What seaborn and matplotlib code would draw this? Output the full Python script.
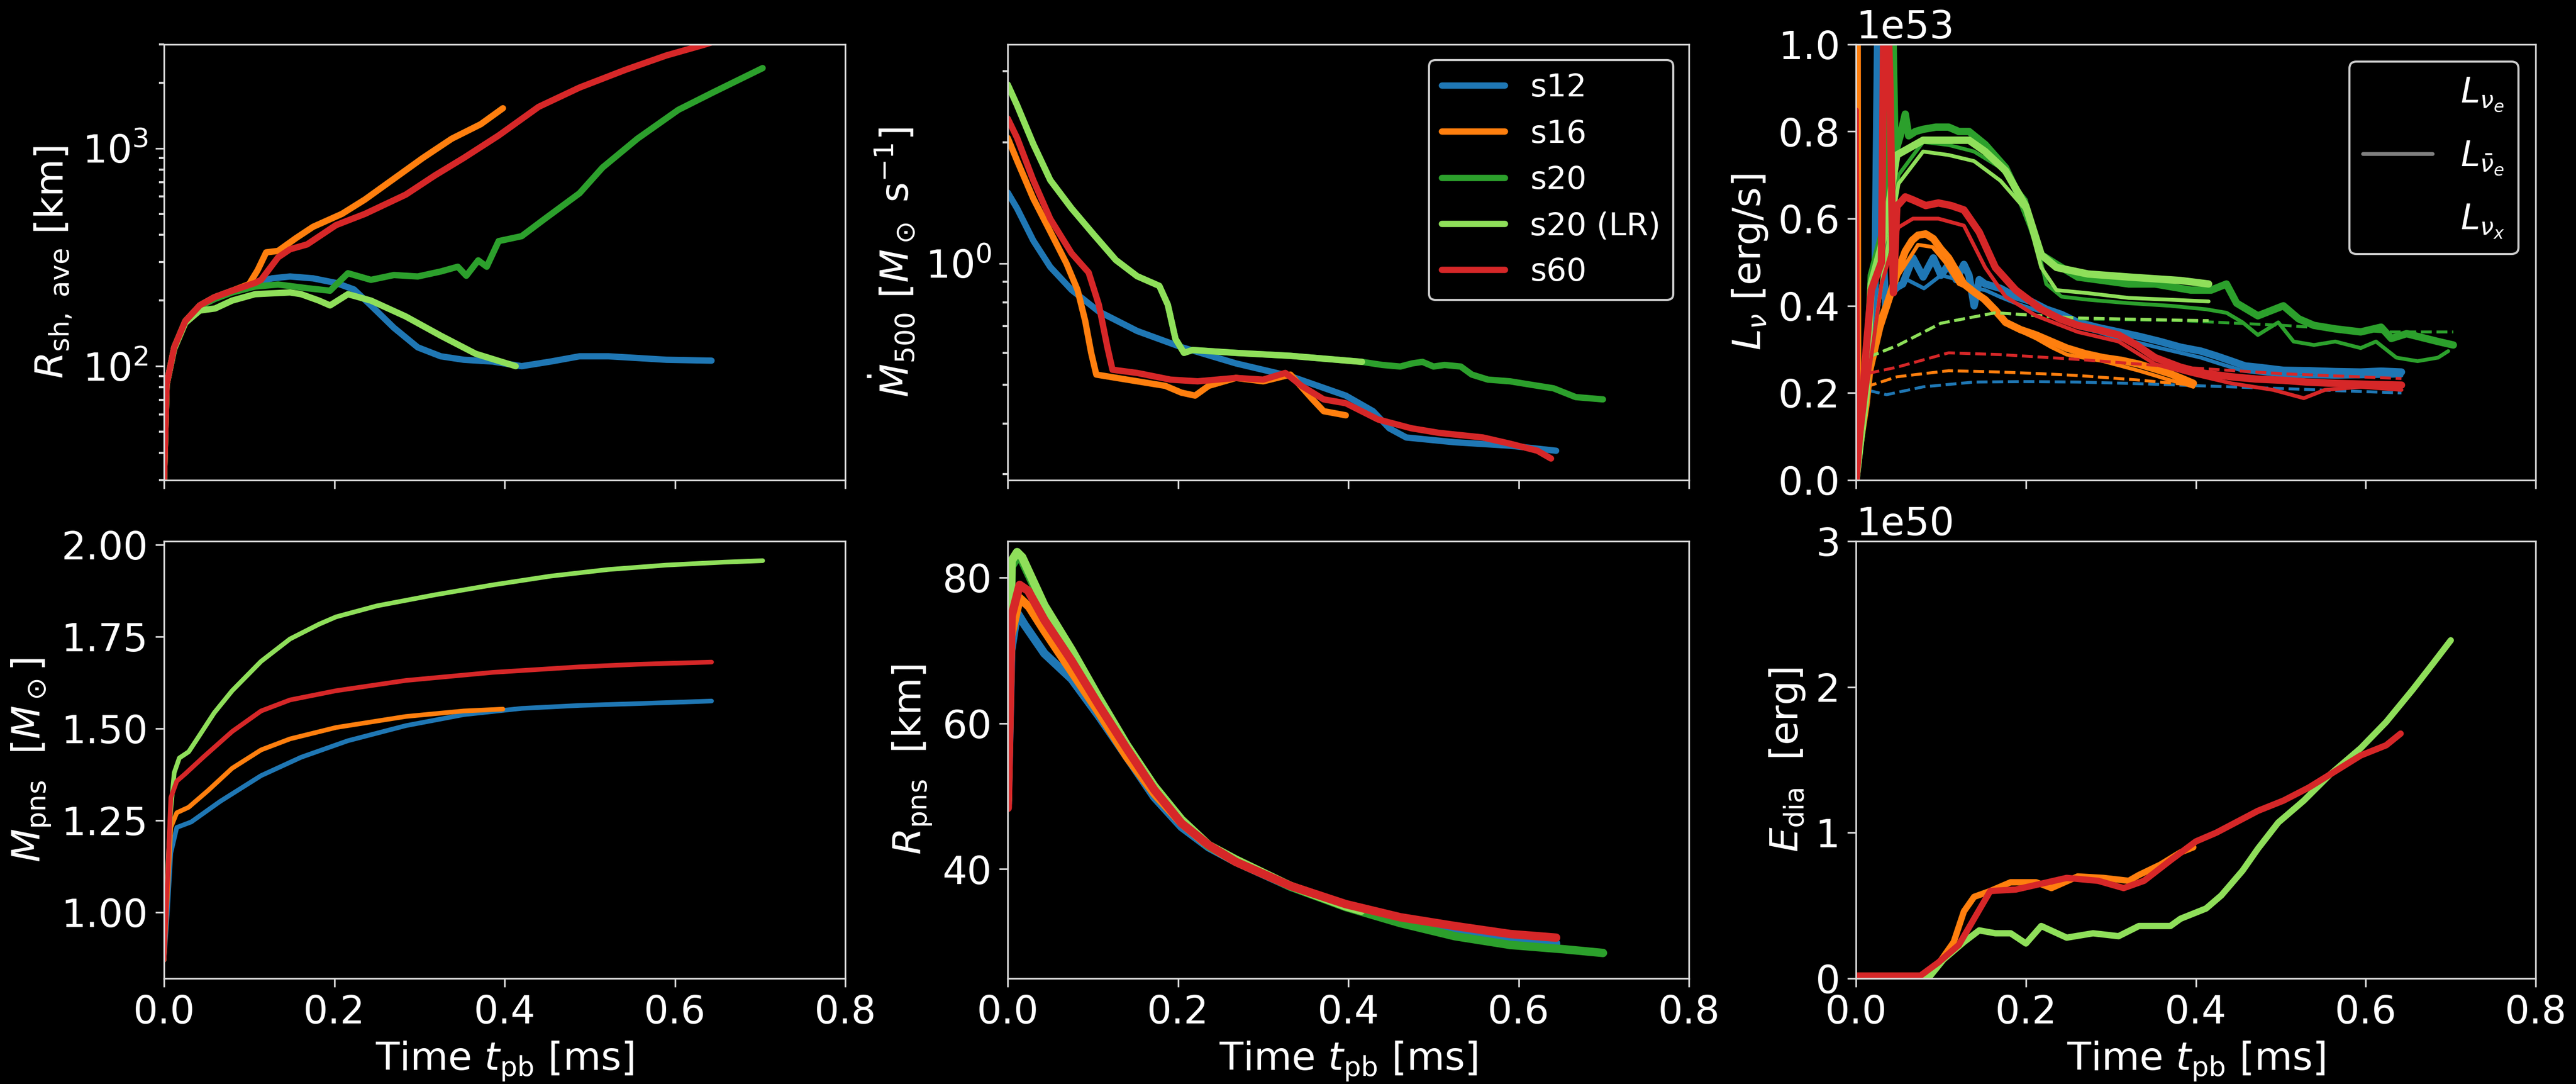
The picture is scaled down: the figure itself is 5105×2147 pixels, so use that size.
import numpy as np
import matplotlib
matplotlib.use('Agg')
import matplotlib.pyplot as plt
import seaborn as sns
from matplotlib.lines import Line2D
from matplotlib.ticker import NullFormatter

# ---------------- models ----------------
models = ['s12', 's16', 's20', 's20 (LR)', 's60']
c_s12, c_s16, c_s20, c_s20lr, c_s60 = '#1f77b4', '#ff7f0e', '#2ca02c', '#8fdf5a', '#d62728'
xticks = [0.0, 0.2, 0.4, 0.6, 0.8]

# ---------------- panel 1: average shock radius [km] ----------------
rsh_t_s12 = [0, 0.003, 0.012, 0.025, 0.042, 0.059, 0.08, 0.107, 0.127, 0.148, 0.175, 0.202, 0.223, 0.243, 0.27, 0.298, 0.325, 0.352, 0.386, 0.42, 0.454, 0.488, 0.522, 0.556, 0.59, 0.643]
rsh_s12 = [30, 82, 122, 161, 190, 207, 222, 241, 253, 258, 253, 241, 225, 190, 150, 122, 111, 107, 105, 100, 105, 111, 111, 109, 107, 106]
rsh_t_s16 = [0, 0.003, 0.012, 0.025, 0.042, 0.059, 0.08, 0.1, 0.11, 0.12, 0.134, 0.155, 0.175, 0.209, 0.236, 0.27, 0.304, 0.338, 0.372, 0.398]
rsh_s16 = [30, 82, 122, 161, 190, 207, 222, 238, 276, 333, 338, 387, 436, 500, 582, 725, 903, 1107, 1290, 1527]
rsh_t_s20 = [0, 0.003, 0.012, 0.025, 0.042, 0.059, 0.08, 0.107, 0.134, 0.168, 0.195, 0.216, 0.243, 0.27, 0.298, 0.325, 0.345, 0.355, 0.369, 0.379, 0.393, 0.42, 0.447, 0.488, 0.515, 0.556, 0.604, 0.645, 0.703]
rsh_s20 = [30, 82, 122, 161, 188, 203, 218, 232, 237, 228, 222, 267, 249, 262, 258, 272, 286, 260, 306, 286, 375, 395, 474, 622, 816, 1107, 1501, 1807, 2334]
rsh_t_s20lr = [0, 0.003, 0.012, 0.025, 0.042, 0.06, 0.08, 0.107, 0.148, 0.161, 0.182, 0.195, 0.216, 0.243, 0.284, 0.325, 0.366, 0.413]
rsh_s20lr = [30, 82, 120, 158, 180, 184, 200, 214, 218, 214, 200, 190, 214, 200, 169, 138, 114, 100]
rsh_t_s60 = [0, 0.003, 0.012, 0.025, 0.042, 0.059, 0.08, 0.107, 0.114, 0.134, 0.148, 0.168, 0.202, 0.236, 0.284, 0.318, 0.352, 0.393, 0.44, 0.488, 0.542, 0.59, 0.634, 0.645]
rsh_s60 = [30, 82, 122, 161, 190, 207, 222, 241, 249, 316, 344, 362, 444, 500, 613, 750, 903, 1145, 1550, 1900, 2293, 2668, 2985, 3080]

# ---------------- panel 2: mass accretion rate at 500 km [Msun/s] ----------------
mdot_t_s12 = [0, 0.011, 0.03, 0.05, 0.075, 0.107, 0.152, 0.204, 0.268, 0.332, 0.397, 0.429, 0.448, 0.468, 0.525, 0.59, 0.644]
mdot_s12 = [1.5, 1.37, 1.14, 0.98, 0.86, 0.76, 0.68, 0.62, 0.565, 0.525, 0.47, 0.43, 0.39, 0.37, 0.36, 0.353, 0.343]
mdot_t_s16 = [0, 0.011, 0.03, 0.05, 0.069, 0.082, 0.091, 0.098, 0.104, 0.14, 0.185, 0.204, 0.22, 0.236, 0.268, 0.3, 0.332, 0.358, 0.371, 0.397]
mdot_s16 = [2.05, 1.8, 1.45, 1.2, 1.0, 0.86, 0.72, 0.60, 0.53, 0.515, 0.497, 0.478, 0.47, 0.497, 0.52, 0.51, 0.53, 0.46, 0.43, 0.42]
mdot_t_s20 = [0, 0.011, 0.03, 0.05, 0.075, 0.101, 0.127, 0.152, 0.178, 0.188, 0.197, 0.207, 0.217, 0.268, 0.332, 0.416, 0.44, 0.461, 0.475, 0.487, 0.5, 0.513, 0.532, 0.545, 0.564, 0.59, 0.615, 0.641, 0.667, 0.699]
mdot_s20 = [2.78, 2.47, 1.98, 1.61, 1.37, 1.18, 1.02, 0.93, 0.88, 0.79, 0.65, 0.60, 0.61, 0.60, 0.59, 0.57, 0.56, 0.555, 0.565, 0.57, 0.555, 0.56, 0.555, 0.53, 0.515, 0.51, 0.50, 0.49, 0.466, 0.46]
mdot_t_s20lr = [0, 0.011, 0.03, 0.05, 0.075, 0.101, 0.127, 0.152, 0.178, 0.188, 0.197, 0.207, 0.217, 0.268, 0.332, 0.416]
mdot_s20lr = [2.78, 2.47, 1.98, 1.61, 1.37, 1.18, 1.02, 0.93, 0.88, 0.79, 0.65, 0.60, 0.61, 0.60, 0.59, 0.57]
mdot_t_s60 = [0, 0.011, 0.03, 0.05, 0.075, 0.095, 0.107, 0.117, 0.123, 0.152, 0.191, 0.223, 0.268, 0.3, 0.326, 0.345, 0.371, 0.397, 0.435, 0.474, 0.506, 0.558, 0.59, 0.622, 0.638]
mdot_s60 = [2.29, 2.05, 1.61, 1.29, 1.06, 0.95, 0.79, 0.62, 0.545, 0.535, 0.515, 0.51, 0.52, 0.515, 0.535, 0.497, 0.46, 0.45, 0.41, 0.39, 0.38, 0.37, 0.357, 0.343, 0.328]

# ---------------- panel 3: neutrino luminosities [1e53 erg/s] ----------------
lnue_t_s12 = [0, 0.008, 0.015, 0.022, 0.027, 0.031, 0.035, 0.042, 0.055, 0.067, 0.079, 0.091, 0.1, 0.109, 0.118, 0.127, 0.133, 0.139, 0.145, 0.152, 0.17, 0.188, 0.206, 0.224, 0.242, 0.261, 0.285, 0.309, 0.333, 0.358, 0.382, 0.406, 0.424, 0.442, 0.458, 0.473, 0.503, 0.533, 0.564, 0.594, 0.618, 0.642]
lnue_s12 = [0, 0.14, 0.29, 0.38, 1.3, 0.55, 0.40, 0.436, 0.45, 0.51, 0.466, 0.51, 0.47, 0.495, 0.46, 0.495, 0.47, 0.40, 0.46, 0.45, 0.44, 0.421, 0.41, 0.392, 0.38, 0.362, 0.35, 0.34, 0.33, 0.318, 0.305, 0.296, 0.285, 0.273, 0.262, 0.259, 0.252, 0.251, 0.249, 0.248, 0.25, 0.248]
lnub_t_s12 = [0, 0.01, 0.02, 0.04, 0.06, 0.08, 0.1, 0.12, 0.14, 0.152, 0.17, 0.188, 0.212, 0.236, 0.261, 0.285, 0.309, 0.333, 0.358, 0.382, 0.406, 0.43, 0.455, 0.48, 0.503, 0.533, 0.564, 0.6, 0.642]
lnub_s12 = [0, 0.15, 0.3, 0.42, 0.46, 0.44, 0.47, 0.46, 0.44, 0.436, 0.42, 0.406, 0.39, 0.377, 0.351, 0.34, 0.325, 0.315, 0.303, 0.292, 0.281, 0.266, 0.251, 0.245, 0.24, 0.238, 0.237, 0.238, 0.24]
lnux_t_s12 = [0, 0.012, 0.036, 0.079, 0.139, 0.2, 0.261, 0.32, 0.382, 0.44, 0.503, 0.57, 0.642]
lnux_s12 = [0, 0.207, 0.196, 0.214, 0.225, 0.226, 0.225, 0.222, 0.218, 0.214, 0.21, 0.205, 0.2]

lnue_t_s16 = [0, 0.001, 0.002, 0.006, 0.012, 0.018, 0.028, 0.036, 0.048, 0.058, 0.066, 0.073, 0.082, 0.091, 0.1, 0.109, 0.118, 0.127, 0.14, 0.152, 0.164, 0.176, 0.194, 0.212, 0.23, 0.248, 0.27, 0.291, 0.312, 0.333, 0.352, 0.37, 0.385, 0.397]
lnue_s16 = [0, 1.6, 0.05, 0.1, 0.177, 0.288, 0.36, 0.40, 0.473, 0.525, 0.55, 0.562, 0.565, 0.554, 0.53, 0.51, 0.48, 0.45, 0.43, 0.414, 0.39, 0.362, 0.345, 0.333, 0.318, 0.303, 0.29, 0.281, 0.275, 0.266, 0.255, 0.244, 0.232, 0.222]
lnub_t_s16 = [0, 0.012, 0.03, 0.05, 0.073, 0.09, 0.105, 0.121, 0.133, 0.145, 0.158, 0.17, 0.19, 0.212, 0.23, 0.248, 0.27, 0.291, 0.312, 0.333, 0.352, 0.37, 0.385, 0.397]
lnub_s16 = [0, 0.2, 0.35, 0.47, 0.54, 0.535, 0.5, 0.45, 0.44, 0.421, 0.395, 0.37, 0.345, 0.325, 0.305, 0.288, 0.28, 0.273, 0.262, 0.251, 0.24, 0.229, 0.222, 0.214]
lnux_t_s16 = [0, 0.012, 0.048, 0.109, 0.17, 0.22, 0.261, 0.33, 0.397]
lnux_s16 = [0, 0.214, 0.237, 0.251, 0.248, 0.244, 0.24, 0.23, 0.218]

lnue_t_s20 = [0, 0.012, 0.018, 0.033, 0.038, 0.041, 0.046, 0.052, 0.058, 0.062, 0.07, 0.079, 0.094, 0.109, 0.121, 0.133, 0.152, 0.176, 0.194, 0.206, 0.218, 0.236, 0.261, 0.291, 0.321, 0.352, 0.394, 0.418, 0.436, 0.448, 0.473, 0.503, 0.521, 0.539, 0.564, 0.594, 0.618, 0.63, 0.648, 0.685, 0.703]
lnue_s20 = [0, 0.21, 0.47, 0.58, 0.9, 1.3, 0.75, 0.79, 0.84, 0.79, 0.8, 0.805, 0.81, 0.81, 0.8, 0.80, 0.77, 0.717, 0.643, 0.584, 0.517, 0.495, 0.466, 0.458, 0.45, 0.45, 0.436, 0.436, 0.45, 0.406, 0.377, 0.40, 0.37, 0.355, 0.347, 0.34, 0.351, 0.325, 0.336, 0.318, 0.31]
lnub_t_s20 = [0, 0.012, 0.03, 0.05, 0.079, 0.109, 0.139, 0.17, 0.2, 0.212, 0.224, 0.242, 0.273, 0.321, 0.37, 0.412, 0.436, 0.455, 0.473, 0.497, 0.515, 0.539, 0.564, 0.594, 0.612, 0.636, 0.661, 0.685, 0.697]
lnub_s20 = [0, 0.2, 0.45, 0.7, 0.776, 0.769, 0.754, 0.717, 0.643, 0.547, 0.45, 0.421, 0.414, 0.406, 0.40, 0.392, 0.384, 0.362, 0.333, 0.362, 0.318, 0.31, 0.318, 0.303, 0.318, 0.281, 0.273, 0.281, 0.296]
lnux_t_s20 = [0, 0.012, 0.05, 0.1, 0.164, 0.261, 0.382, 0.503, 0.624, 0.703]
lnux_s20 = [0, 0.28, 0.31, 0.36, 0.384, 0.37, 0.366, 0.355, 0.34, 0.34]

lnue_t_s20lr = [0, 0.012, 0.018, 0.033, 0.048, 0.079, 0.109, 0.133, 0.152, 0.176, 0.2, 0.218, 0.236, 0.273, 0.321, 0.382, 0.415]
lnue_s20lr = [0, 0.2, 0.45, 0.56, 0.746, 0.78, 0.78, 0.78, 0.754, 0.71, 0.628, 0.517, 0.488, 0.473, 0.466, 0.458, 0.45]
lnub_t_s20lr = [0, 0.012, 0.03, 0.05, 0.079, 0.109, 0.139, 0.17, 0.2, 0.218, 0.236, 0.273, 0.321, 0.37, 0.415]
lnub_s20lr = [0, 0.2, 0.45, 0.68, 0.754, 0.746, 0.732, 0.687, 0.62, 0.488, 0.436, 0.429, 0.418, 0.414, 0.41]
lnux_t_s20lr = [0, 0.012, 0.05, 0.1, 0.164, 0.261, 0.382, 0.415]
lnux_s20lr = [0, 0.28, 0.31, 0.36, 0.384, 0.372, 0.367, 0.366]

lnue_t_s60 = [0, 0.012, 0.018, 0.03, 0.034, 0.04, 0.044, 0.048, 0.058, 0.067, 0.082, 0.097, 0.112, 0.127, 0.145, 0.164, 0.188, 0.218, 0.24, 0.261, 0.285, 0.309, 0.33, 0.352, 0.382, 0.41, 0.442, 0.47, 0.503, 0.53, 0.564, 0.6, 0.642]
lnue_s60 = [0, 0.3, 0.436, 0.5, 1.3, 0.9, 0.43, 0.628, 0.65, 0.643, 0.63, 0.636, 0.63, 0.62, 0.569, 0.488, 0.436, 0.392, 0.37, 0.355, 0.345, 0.333, 0.31, 0.281, 0.259, 0.245, 0.237, 0.232, 0.229, 0.225, 0.222, 0.22, 0.218]
lnub_t_s60 = [0, 0.001, 0.003, 0.012, 0.03, 0.05, 0.067, 0.097, 0.127, 0.152, 0.176, 0.212, 0.261, 0.309, 0.352, 0.394, 0.442, 0.491, 0.527, 0.552, 0.594, 0.642]
lnub_s60 = [0, 0.85, 0.05, 0.2, 0.45, 0.58, 0.6, 0.6, 0.584, 0.488, 0.421, 0.377, 0.34, 0.318, 0.266, 0.244, 0.222, 0.207, 0.188, 0.207, 0.214, 0.207]
lnux_t_s60 = [0, 0.012, 0.048, 0.109, 0.17, 0.261, 0.382, 0.503, 0.642]
lnux_s60 = [0, 0.244, 0.259, 0.292, 0.288, 0.277, 0.259, 0.244, 0.233]

# ---------------- panel 4: PNS mass [Msun] ----------------
mpns_t_s12 = [0, 0.004, 0.008, 0.015, 0.032, 0.066, 0.114, 0.161, 0.216, 0.284, 0.352, 0.42, 0.488, 0.556, 0.643]
mpns_s12 = [0.87, 1.0, 1.161, 1.231, 1.246, 1.302, 1.372, 1.422, 1.467, 1.508, 1.538, 1.555, 1.563, 1.568, 1.575]
mpns_t_s16 = [0, 0.004, 0.008, 0.015, 0.029, 0.052, 0.08, 0.114, 0.148, 0.202, 0.284, 0.352, 0.398]
mpns_s16 = [0.87, 1.05, 1.231, 1.271, 1.286, 1.332, 1.392, 1.442, 1.472, 1.503, 1.533, 1.548, 1.553]
mpns_t_s20lr = [0, 0.004, 0.008, 0.012, 0.018, 0.029, 0.039, 0.059, 0.08, 0.114, 0.148, 0.182, 0.202, 0.25, 0.318, 0.386, 0.454, 0.522, 0.59, 0.658, 0.703]
mpns_s20lr = [0.87, 1.1, 1.28, 1.38, 1.42, 1.437, 1.472, 1.543, 1.603, 1.683, 1.744, 1.784, 1.804, 1.834, 1.864, 1.891, 1.915, 1.933, 1.945, 1.953, 1.957]
mpns_t_s60 = [0, 0.004, 0.008, 0.015, 0.025, 0.046, 0.08, 0.114, 0.148, 0.202, 0.284, 0.386, 0.488, 0.556, 0.643]
mpns_s60 = [0.87, 1.08, 1.312, 1.357, 1.377, 1.422, 1.492, 1.548, 1.578, 1.603, 1.631, 1.653, 1.668, 1.675, 1.681]

# ---------------- panel 5: PNS radius [km] ----------------
rpns_t_s12 = [0, 0.004, 0.011, 0.02, 0.043, 0.075, 0.107, 0.14, 0.172, 0.204, 0.236, 0.268, 0.332, 0.397, 0.461, 0.525, 0.59, 0.644]
rpns_s12 = [49.0, 70, 75.2, 73.5, 69.6, 66.1, 61.0, 55.4, 49.9, 45.8, 43.0, 41.0, 37.6, 34.9, 32.9, 31.4, 30.3, 29.8]
rpns_t_s16 = [0, 0.004, 0.014, 0.025, 0.043, 0.075, 0.107, 0.14, 0.172, 0.204, 0.236, 0.268, 0.332, 0.398]
rpns_s16 = [50, 72, 77.2, 76, 72.7, 67.1, 61.5, 55.4, 50.4, 46.3, 43.2, 41.0, 37.7, 35.1]
rpns_t_s20 = [0, 0.0045, 0.011, 0.017, 0.043, 0.075, 0.107, 0.14, 0.172, 0.204, 0.236, 0.268, 0.332, 0.397, 0.461, 0.525, 0.59, 0.654, 0.699]
rpns_s20 = [49.4, 81.5, 82.8, 82.3, 75.8, 69.7, 63.2, 56.8, 51.2, 46.7, 43.2, 41.2, 37.6, 34.8, 32.6, 30.8, 29.6, 29.0, 28.5]
rpns_t_s20lr = [0, 0.0045, 0.011, 0.017, 0.043, 0.075, 0.107, 0.14, 0.172, 0.204, 0.236, 0.268, 0.332, 0.397, 0.415]
rpns_s20lr = [49.4, 82.3, 83.5, 82.8, 76.2, 70.1, 63.5, 57.0, 51.4, 46.8, 43.3, 41.3, 37.7, 34.9, 34.3]
rpns_t_s60 = [0, 0.0045, 0.014, 0.024, 0.043, 0.075, 0.107, 0.14, 0.172, 0.204, 0.236, 0.268, 0.332, 0.397, 0.461, 0.525, 0.59, 0.644]
rpns_s60 = [48.4, 74.7, 79, 78.2, 74.2, 68.6, 62.5, 56.5, 50.9, 46.3, 43.3, 41.0, 37.7, 35.2, 33.4, 32.2, 31.1, 30.6]

# ---------------- panel 6: diagnostic explosion energy [1e50 erg] ----------------
edia_t_s16 = [0, 0.079, 0.097, 0.115, 0.127, 0.139, 0.158, 0.182, 0.212, 0.23, 0.261, 0.291, 0.321, 0.333, 0.358, 0.382, 0.397]
edia_s16 = [0.02, 0.02, 0.1, 0.25, 0.46, 0.56, 0.6, 0.66, 0.66, 0.62, 0.70, 0.69, 0.67, 0.71, 0.78, 0.865, 0.9]
edia_t_s20lr = [0, 0.085, 0.103, 0.127, 0.145, 0.164, 0.182, 0.2, 0.218, 0.248, 0.279, 0.309, 0.333, 0.37, 0.382, 0.412, 0.43, 0.455, 0.473, 0.497, 0.527, 0.558, 0.594, 0.624, 0.655, 0.679, 0.7]
edia_s20lr = [0.0, 0.0, 0.13, 0.25, 0.33, 0.31, 0.31, 0.24, 0.36, 0.28, 0.31, 0.29, 0.36, 0.36, 0.41, 0.48, 0.57, 0.74, 0.89, 1.07, 1.22, 1.40, 1.58, 1.76, 1.98, 2.16, 2.32]
edia_t_s60 = [0, 0.076, 0.097, 0.121, 0.139, 0.158, 0.188, 0.218, 0.248, 0.285, 0.315, 0.339, 0.37, 0.4, 0.424, 0.473, 0.503, 0.533, 0.558, 0.594, 0.624, 0.641]
edia_s60 = [0.02, 0.02, 0.11, 0.23, 0.41, 0.6, 0.61, 0.65, 0.69, 0.67, 0.62, 0.67, 0.81, 0.94, 1.0, 1.15, 1.22, 1.31, 1.40, 1.53, 1.60, 1.68]

# ---------------- style ----------------
FS = 18.5
sns.set_theme(style='ticks', rc={
    'figure.facecolor': 'black', 'axes.facecolor': 'black', 'savefig.facecolor': 'black',
    'axes.edgecolor': '#d9d9d9', 'axes.labelcolor': 'white', 'text.color': 'white',
    'xtick.color': '#d9d9d9', 'ytick.color': '#d9d9d9',
    'xtick.labelcolor': 'white', 'ytick.labelcolor': 'white',
    'axes.linewidth': 0.8, 'axes.grid': False,
    'font.size': FS, 'axes.labelsize': FS, 'xtick.labelsize': FS, 'ytick.labelsize': FS,
    'legend.fontsize': 15, 'legend.facecolor': 'black', 'legend.edgecolor': '#cccccc',
    'legend.framealpha': 1.0,
    'xtick.major.size': 4, 'ytick.major.size': 4, 'xtick.minor.size': 2.3, 'ytick.minor.size': 2.3,
    'xtick.major.width': 0.8, 'ytick.major.width': 0.8,
})
plt.rcParams['font.family'] = ['DejaVu Sans']
plt.rcParams['mathtext.fontset'] = 'dejavusans'

W, H = 5105, 2147
fig = plt.figure(figsize=(5105.2 / 300, 2147.2 / 300), dpi=300)

def add_ax(x0, y0, w, h):
    return fig.add_axes([x0 / W, 1 - (y0 + h) / H, w / W, h / H])

col_x = [325, 1997, 3678]
col_w = [1350, 1350, 1347]
row_y = [88, 1072]
row_h = [863, 866]
axes = [[add_ax(col_x[c], row_y[r], col_w[c], row_h[r]) for c in range(3)] for r in range(2)]

def draw(ax, t, v, color, lw, ls='-', scale=1.0):
    sns.lineplot(x=np.asarray(t, float), y=np.asarray(v, float) * scale, ax=ax, color=color,
                 linewidth=lw, linestyle=ls, estimator=None, sort=False, legend=False)

# panel 1
ax = axes[0][0]
for t, v, c in [(rsh_t_s12, rsh_s12, c_s12), (rsh_t_s16, rsh_s16, c_s16), (rsh_t_s20, rsh_s20, c_s20),
                (rsh_t_s20lr, rsh_s20lr, c_s20lr), (rsh_t_s60, rsh_s60, c_s60)]:
    draw(ax, t, v, c, 3.0)
ax.set_yscale('log')
ax.set_ylim(30, 3000)
ax.set_ylabel(r'$R_\mathrm{sh,\ ave}$ [km]')

# panel 2
ax = axes[0][1]
for t, v, c in [(mdot_t_s12, mdot_s12, c_s12), (mdot_t_s16, mdot_s16, c_s16), (mdot_t_s20, mdot_s20, c_s20),
                (mdot_t_s20lr, mdot_s20lr, c_s20lr), (mdot_t_s60, mdot_s60, c_s60)]:
    draw(ax, t, v, c, 3.0)
ax.set_yscale('log')
ax.set_ylim(0.29, 3.5)
ax.yaxis.set_minor_formatter(NullFormatter())
ax.set_ylabel(r'$\dot{M}_{500}$ [$M_\odot$ s$^{-1}$]')
handles = [Line2D([], [], color=c, lw=3.0) for c in [c_s12, c_s16, c_s20, c_s20lr, c_s60]]
ax.legend(handles, models, loc='upper right')

# panel 3
ax = axes[0][2]
lum = [
    (c_s12, lnue_t_s12, lnue_s12, lnub_t_s12, lnub_s12, lnux_t_s12, lnux_s12),
    (c_s16, lnue_t_s16, lnue_s16, lnub_t_s16, lnub_s16, lnux_t_s16, lnux_s16),
    (c_s20, lnue_t_s20, lnue_s20, lnub_t_s20, lnub_s20, lnux_t_s20, lnux_s20),
    (c_s20lr, lnue_t_s20lr, lnue_s20lr, lnub_t_s20lr, lnub_s20lr, lnux_t_s20lr, lnux_s20lr),
    (c_s60, lnue_t_s60, lnue_s60, lnub_t_s60, lnub_s60, lnux_t_s60, lnux_s60),
]
for c, te, ve, tb, vb, tx, vx in lum:
    draw(ax, tx, vx, c, 1.4, '--', 1e53)
    draw(ax, tb, vb, c, 1.8, '-', 1e53)
    draw(ax, te, ve, c, 3.5, '-', 1e53)
ax.set_ylim(0, 1e53)
ax.set_ylabel(r'$L_\nu$ [erg/s]')
lh = [Line2D([], [], color='black', lw=3.5), Line2D([], [], color='grey', lw=1.8),
      Line2D([], [], color='black', lw=1.4, ls='--')]
ax.legend(lh, [r'$L_{\nu_e}$', r'$L_{\bar{\nu}_e}$', r'$L_{\nu_x}$'], loc='upper right',
          prop={'size': 16.5}, labelspacing=0.75)

# panel 4
ax = axes[1][0]
for t, v, c in [(mpns_t_s12, mpns_s12, c_s12), (mpns_t_s16, mpns_s16, c_s16),
                (mpns_t_s20lr, mpns_s20lr, c_s20lr), (mpns_t_s60, mpns_s60, c_s60)]:
    draw(ax, t, v, c, 2.2)
ax.set_ylim(0.82, 2.01)
ax.set_yticks([1.0, 1.25, 1.5, 1.75, 2.0])
ax.set_ylabel(r'$M_\mathrm{pns}$  [$M_\odot$]')

# panel 5
ax = axes[1][1]
for t, v, c in [(rpns_t_s12, rpns_s12, c_s12), (rpns_t_s16, rpns_s16, c_s16), (rpns_t_s20, rpns_s20, c_s20),
                (rpns_t_s20lr, rpns_s20lr, c_s20lr), (rpns_t_s60, rpns_s60, c_s60)]:
    draw(ax, t, v, c, 4.0)
ax.set_ylim(25, 85)
ax.set_yticks([40, 60, 80])
ax.set_ylabel(r'$R_\mathrm{pns}$  [km]')

# panel 6
ax = axes[1][2]
for t, v, c in [(edia_t_s16, edia_s16, c_s16), (edia_t_s20lr, edia_s20lr, c_s20lr), (edia_t_s60, edia_s60, c_s60)]:
    draw(ax, t, v, c, 3.0, '-', 1e50)
ax.set_ylim(0, 3e50)
ax.set_yticks([0, 1e50, 2e50, 3e50])
ax.set_ylabel(r'$E_\mathrm{dia}$  [erg]')

for r in range(2):
    for c in range(3):
        a = axes[r][c]
        a.set_xlim(0, 0.8)
        a.set_xticks(xticks)
        for s in a.spines.values():
            s.set_visible(True)
            s.set_color('#d9d9d9')
        if r == 0:
            a.set_xticklabels([])
            a.set_xlabel('')
        else:
            a.set_xticklabels(['0.0', '0.2', '0.4', '0.6', '0.8'])
            a.set_xlabel(r'Time $t_\mathrm{pb}$ [ms]')

fig.savefig('out.png', dpi=300, facecolor='black')
